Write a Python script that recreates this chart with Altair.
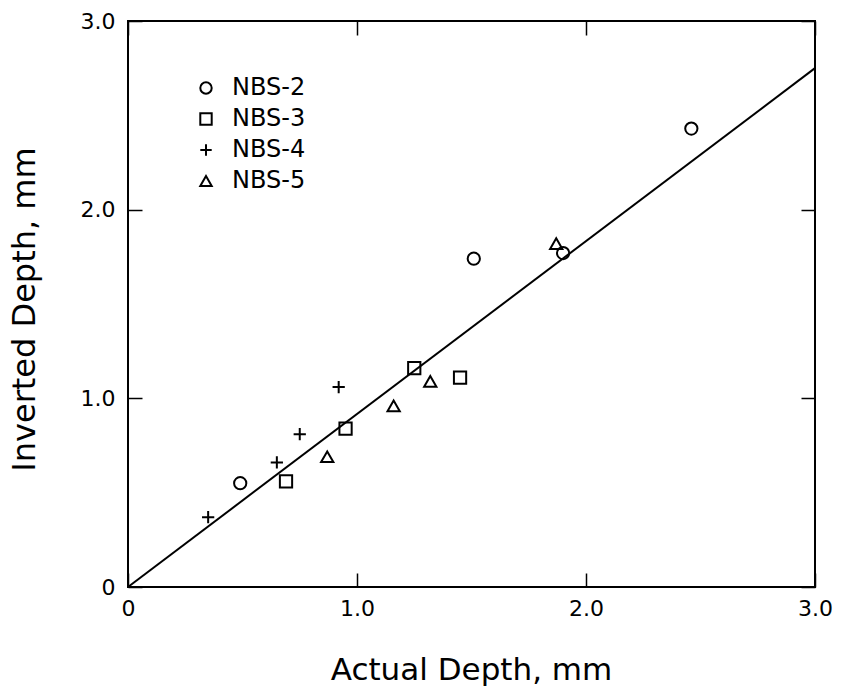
import altair as alt
import pandas as pd

# data
series = ["NBS-2"] * 4 + ["NBS-3"] * 4 + ["NBS-4"] * 4 + ["NBS-5"] * 4
actual = [0.49, 1.51, 1.90, 2.46,
          0.69, 0.95, 1.25, 1.45,
          0.35, 0.65, 0.75, 0.92,
          0.87, 1.16, 1.32, 1.87]
inverted = [0.55, 1.74, 1.77, 2.43,
            0.56, 0.84, 1.16, 1.11,
            0.37, 0.66, 0.81, 1.06,
            0.69, 0.96, 1.09, 1.82]
line_x = [0.0, 3.0]
line_y = [0.0, 2.75]
tick_values = [0, 1, 2, 3]
legend_order = ["NBS-2", "NBS-3", "NBS-4", "NBS-5"]

pts = pd.DataFrame({"series": series, "actual": actual, "inverted": inverted})
ln = pd.DataFrame({"actual": line_x, "inverted": line_y})

FONT = "DejaVu Sans"
PLUS = "M-1,0L1,0M0,-1L0,1"
shapes = ["circle", "square", PLUS, "triangle-up"]

lab_expr = "datum.value == 0 ? '0' : format(datum.value, '.1f')"

xs = alt.Scale(domain=[0, 3], nice=False, zero=False)
ys = alt.Scale(domain=[0, 3], nice=False, zero=False)

points = alt.Chart(pts).mark_point(
    filled=False, color="black", strokeWidth=2, size=150, opacity=1
).encode(
    x=alt.X("actual:Q", scale=xs, axis=alt.Axis(
        orient="bottom", values=tick_values, labelExpr=lab_expr,
        title="Actual Depth, mm", offset=-14, tickSize=14, domain=False,
        labelPadding=28, labelBaseline="alphabetic", labelFlush=False,
        labelFontSize=22, labelFont=FONT, labelColor="black",
        titleFont=FONT, titleFontSize=31, titleFontWeight="normal",
        titleColor="black", titleX=343, titleY=106,
        titleBaseline="alphabetic", titleAlign="center",
        tickColor="black", tickWidth=1.5, grid=False)),
    y=alt.Y("inverted:Q", scale=ys, axis=alt.Axis(
        orient="left", values=tick_values, labelExpr=lab_expr,
        title="Inverted Depth, mm", offset=-14, tickSize=14, domain=False,
        labelPadding=13, labelFlush=False,
        labelFontSize=22, labelFont=FONT, labelColor="black",
        titleFont=FONT, titleFontSize=32, titleFontWeight="normal",
        titleColor="black", titleX=-108, titleY=288, titleAngle=270,
        titleBaseline="alphabetic", titleAlign="center",
        tickColor="black", tickWidth=1.5, grid=False)),
    shape=alt.Shape("series:N", scale=alt.Scale(domain=legend_order, range=shapes),
                    legend=alt.Legend(
                        title=None, orient="none", legendX=66, legendY=55,
                        labelFont=FONT, labelFontSize=24, labelColor="black",
                        symbolSize=130, symbolStrokeColor="black",
                        symbolFillColor="transparent", symbolStrokeWidth=2,
                        symbolType="circle", rowPadding=7, labelOffset=14)),
)

line = alt.Chart(ln).mark_line(color="black", strokeWidth=2).encode(
    x=alt.X("actual:Q", scale=xs, axis=alt.Axis(
        orient="top", values=tick_values, labels=False, title=None,
        offset=-14, tickSize=14, domain=False, tickColor="black",
        tickWidth=1.5, grid=False)),
    y=alt.Y("inverted:Q", scale=ys, axis=alt.Axis(
        orient="right", values=tick_values, labels=False, title=None,
        offset=-14, tickSize=14, domain=False, tickColor="black",
        tickWidth=1.5, grid=False)),
)

chart = alt.layer(points, line).resolve_axis(
    x="independent", y="independent"
).properties(
    width=687, height=566,
    autosize=alt.AutoSizeParams(type="none"),
    padding={"left": 128, "top": 21, "right": 26, "bottom": 99},
    background="white",
).configure_view(stroke="black", strokeWidth=2)

chart.save("out.html", embed_options={"renderer": "svg", "actions": False})
